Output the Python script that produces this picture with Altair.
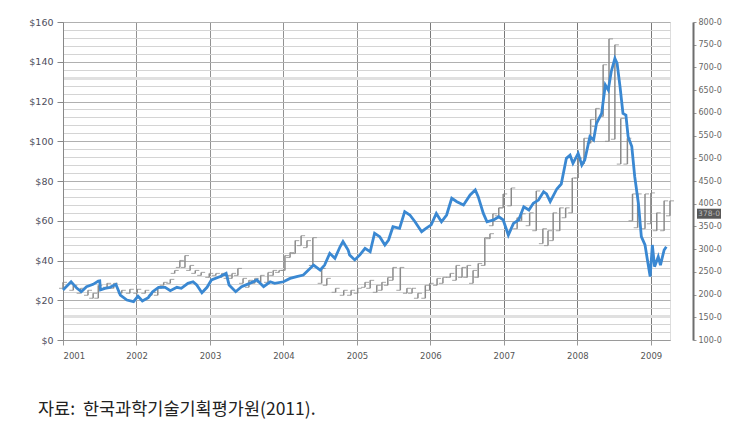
import altair as alt
import pandas as pd

# Blue line: crude oil price (left axis, $)
oil_t = [2001.00, 2001.11, 2001.19, 2001.25, 2001.32, 2001.41, 2001.48, 2001.50, 2001.51, 2001.57,
         2001.64, 2001.72, 2001.78, 2001.87, 2001.96, 2002.02, 2002.08, 2002.16, 2002.22, 2002.30,
         2002.39, 2002.46, 2002.55, 2002.61, 2002.70, 2002.77, 2002.82, 2002.89, 2002.96, 2003.02,
         2003.14, 2003.22, 2003.26, 2003.35, 2003.43, 2003.54, 2003.64, 2003.73, 2003.82, 2003.88,
         2004.00, 2004.09, 2004.18, 2004.27, 2004.34, 2004.41, 2004.50, 2004.56, 2004.63, 2004.70,
         2004.77, 2004.81, 2004.88, 2004.90, 2004.97, 2005.04, 2005.11, 2005.18, 2005.24, 2005.31,
         2005.38, 2005.43, 2005.49, 2005.58, 2005.65, 2005.72, 2005.79, 2005.88, 2005.94, 2006.01,
         2006.08, 2006.15, 2006.22, 2006.29, 2006.36, 2006.45, 2006.54, 2006.61, 2006.65, 2006.72,
         2006.77, 2006.86, 2006.93, 2006.99, 2007.06, 2007.13, 2007.20, 2007.27, 2007.34, 2007.40,
         2007.47, 2007.54, 2007.58, 2007.63, 2007.72, 2007.78, 2007.85, 2007.90, 2007.94, 2008.01,
         2008.06, 2008.10, 2008.17, 2008.22, 2008.26, 2008.33, 2008.38, 2008.42, 2008.46, 2008.51,
         2008.54, 2008.58, 2008.62, 2008.66, 2008.69, 2008.74, 2008.78, 2008.83, 2008.87, 2008.92,
         2008.96, 2008.99, 2009.02, 2009.05, 2009.10, 2009.13, 2009.18, 2009.21]
oil_v = [25.2, 29.3, 26.0, 24.3, 26.8, 28.0, 29.7, 29.8, 25.2, 26.0,
         26.5, 28.0, 22.6, 20.1, 19.3, 22.1, 19.6, 21.3, 24.3, 26.5,
         26.5, 24.8, 26.5, 26.0, 28.5, 29.3, 27.7, 23.8, 26.5, 30.2,
         31.9, 33.5, 27.7, 24.3, 26.8, 28.5, 30.2, 26.8, 29.3, 28.5,
         29.3, 31.0, 31.9, 32.7, 35.2, 37.7, 35.2, 37.7, 43.6, 41.1,
         46.9, 49.5, 45.3, 42.8, 40.3, 42.8, 46.1, 44.4, 53.7, 52.0,
         47.8, 50.3, 57.0, 56.2, 64.6, 62.9, 59.5, 54.5, 56.2, 57.9,
         63.7, 59.5, 62.9, 71.3, 69.6, 67.9, 73.0, 75.5, 72.1, 63.7,
         59.5, 60.4, 62.0, 60.4, 52.8, 58.7, 60.4, 67.0, 65.4, 68.8,
         70.4, 74.6, 73.5, 69.6, 76.0, 78.5, 91.4, 93.0, 88.9, 93.9,
         88.0, 90.6, 102.3, 100.6, 109.0, 114.0, 128.3, 125.8, 135.0, 141.7,
         139.2, 127.5, 114.0, 113.2, 102.3, 97.3, 82.2, 68.8, 52.0, 47.8,
         38.6, 31.9, 47.8, 36.9, 41.9, 37.7, 45.3, 46.9]

# Grey bars: index (right axis), low / high per period
bar_t = [2001.00, 2001.14, 2001.24, 2001.34, 2001.41, 2001.48, 2001.60, 2001.69, 2001.80, 2001.91,
         2002.01, 2002.12, 2002.21, 2002.29, 2002.37, 2002.46, 2002.52, 2002.59, 2002.66, 2002.73,
         2002.80, 2002.88, 2002.99, 2003.08, 2003.16, 2003.24, 2003.30, 2003.38, 2003.45, 2003.53,
         2003.61, 2003.69, 2003.79, 2003.86, 2003.94, 2004.02, 2004.09, 2004.16, 2004.24, 2004.32,
         2004.40, 2004.52, 2004.59, 2004.71, 2004.82, 2004.92, 2005.01, 2005.11, 2005.18, 2005.27,
         2005.34, 2005.42, 2005.49, 2005.59, 2005.68, 2005.75, 2005.83, 2005.93, 2005.99, 2006.09,
         2006.17, 2006.27, 2006.35, 2006.43, 2006.50, 2006.58, 2006.65, 2006.74, 2006.81, 2006.85,
         2006.93, 2006.99, 2007.10, 2007.18, 2007.24, 2007.35, 2007.44, 2007.53, 2007.60, 2007.67,
         2007.76, 2007.84, 2007.93, 2008.01, 2008.09, 2008.18, 2008.25, 2008.35, 2008.43, 2008.51,
         2008.59, 2008.68, 2008.75, 2008.82, 2008.92, 2009.00, 2009.08, 2009.18, 2009.26]
bar_lo = [213.8, 209.4, 202.8, 198.4, 191.9, 191.9, 215.9, 213.8, 202.8, 202.8,
          202.8, 202.8, 198.4, 198.4, 220.3, 224.7, 246.6, 259.7, 259.7, 253.1,
          246.6, 242.2, 237.8, 242.2, 237.8, 235.6, 235.6, 242.2, 224.7, 215.9,
          224.7, 226.9, 226.9, 242.2, 248.8, 253.1, 281.6, 290.3, 307.8, 303.4,
          264.1, 224.7, 220.3, 205.0, 198.4, 198.4, 202.8, 215.9, 213.8, 205.0,
          209.4, 220.3, 231.3, 209.4, 202.8, 202.8, 191.9, 191.9, 209.4, 220.3,
          224.7, 237.8, 231.3, 237.8, 237.8, 224.7, 237.8, 264.1, 323.1, 351.6,
          373.4, 390.9, 395.3, 345.0, 362.5, 351.6, 340.6, 312.2, 307.8, 318.8,
          340.6, 369.1, 380.0, 456.6, 487.2, 533.1, 570.3, 592.2, 537.5, 541.9,
          487.2, 487.2, 362.5, 347.2, 345.0, 355.9, 340.6, 340.6, 373.4]
bar_hi = [226.9, 220.3, 213.8, 209.4, 202.8, 220.3, 224.7, 224.7, 209.4, 211.6,
          211.6, 209.4, 205.0, 213.8, 226.9, 233.4, 253.1, 275.0, 285.9, 264.1,
          253.1, 248.8, 246.6, 246.6, 246.6, 242.2, 246.6, 257.5, 235.6, 231.3,
          235.6, 242.2, 248.8, 253.1, 253.1, 285.9, 292.5, 318.8, 329.7, 318.8,
          325.3, 257.5, 235.6, 213.8, 209.4, 209.4, 213.8, 226.9, 231.3, 220.3,
          226.9, 237.8, 259.7, 259.7, 213.8, 213.8, 202.8, 220.3, 224.7, 235.6,
          237.8, 246.6, 264.1, 259.7, 264.1, 253.1, 268.4, 325.3, 334.1, 377.8,
          390.9, 421.6, 434.7, 369.1, 377.8, 380.0, 428.1, 345.0, 340.6, 380.0,
          390.9, 390.9, 456.6, 500.3, 544.1, 585.6, 609.7, 705.9, 762.8, 749.7,
          587.8, 544.1, 421.6, 421.6, 421.6, 423.8, 380.0, 406.3, 406.3]

years = [2001, 2002, 2003, 2004, 2005, 2006, 2007, 2008, 2009]
left_ticks = list(range(0, 161, 4))
right_ticks = list(range(100, 801, 50))
last_value = [378]
last_label = ["378-0"]
caption = "자료:\u00a0\u00a0한국과학기술기획평가원(2011)."

W, H = 607, 318
oil = pd.DataFrame({"t": oil_t, "v": oil_v})
bars = pd.DataFrame({"t": bar_t, "lo": bar_lo, "hi": bar_hi})
lastdf = pd.DataFrame({"v": last_value, "lab": last_label})

FONT = "DejaVu Sans"
x_axis = alt.Axis(values=years, format="d", grid=True,
                  gridColor={"condition": {"test": "datum.value >= 2006", "value": "#7a7a7a"}, "value": "#929292"},
                  gridWidth=1,
                  tickSize=5, tickColor="#999", labelPadding=6, labelFontSize=8.5,
                  labelColor="#555", labelFont=FONT, domainColor="#9a9a9a", title=None)
x_scale = alt.Scale(domain=[2001, 2009.26], nice=False, zero=False)

left_axis = alt.Axis(orient="left", values=left_ticks,
                     labelExpr="datum.value % 20 === 0 ? '$' + datum.value : ''",
                     grid=True,
                     gridColor={"condition": [
                         {"test": "datum.value === 12 || datum.value === 132", "value": "#e0e0e0"},
                         {"test": "datum.value % 20 === 0", "value": "#b0b0b0"}],
                         "value": "#d4d4d4"},
                     gridWidth=alt.condition("datum.value === 12 || datum.value === 132", alt.value(3), alt.value(1)),
                     tickOpacity=alt.condition("datum.value % 20 === 0", alt.value(1), alt.value(0)),
                     tickSize=6, tickColor="#888", labelPadding=4, labelFontSize=9.5,
                     labelColor="#4d4d5c", labelFont=FONT, domainColor="#888", title=None)

right_scale = alt.Scale(domain=[100, 800], nice=False, zero=False)
right_axis = alt.Axis(orient="right", offset=23, values=right_ticks,
                      labelExpr="datum.value + '-0'", grid=False,
                      domainColor="#6e6e6e", domainWidth=2, tickColor="#999", tickSize=3,
                      labelPadding=2, labelFontSize=8, labelColor="#666", labelFont=FONT, title=None)

X = alt.X("t:Q", scale=x_scale, axis=x_axis)

rules = alt.Chart(bars).mark_rule(color="#8a8a8a", strokeWidth=1.5).encode(
    x=X, y=alt.Y("lo:Q", scale=right_scale, axis=right_axis), y2="hi:Q")
open_tick = alt.Chart(bars).mark_tick(color="#8a8a8a", orient="horizontal", size=4, thickness=1.1, xOffset=-2).encode(
    x=X, y=alt.Y("lo:Q", scale=right_scale, axis=right_axis))
close_tick = alt.Chart(bars).mark_tick(color="#8a8a8a", orient="horizontal", size=4, thickness=1.1, xOffset=2).encode(
    x=X, y=alt.Y("hi:Q", scale=right_scale, axis=right_axis))
box = alt.Chart(lastdf).mark_tick(color="#111", orient="horizontal", size=24, thickness=10).encode(
    x=alt.value(W + 39), y=alt.Y("v:Q", scale=right_scale, axis=right_axis))
box_text = alt.Chart(lastdf).mark_text(color="#bbb", fontSize=7.5, font=FONT, align="center", baseline="middle").encode(
    x=alt.value(W + 39), y=alt.Y("v:Q", scale=right_scale, axis=right_axis), text="lab:N")

grey = alt.layer(rules, open_tick, close_tick, box, box_text)

blue = alt.Chart(oil).mark_line(color="#3a88d2", strokeWidth=2.8).encode(
    x=X, y=alt.Y("v:Q", scale=alt.Scale(domain=[0, 160], nice=False), axis=left_axis))

cap = alt.Chart(pd.DataFrame({"c": [caption]})).mark_text(
    font="Noto Sans CJK KR", fontSize=17.5, color="#222", align="left", baseline="middle").encode(
    x=alt.value(-25), y=alt.value(388), text="c:N")

chart = alt.layer(grey, blue, cap).resolve_scale(y="independent").properties(
    width=W, height=H,
    autosize=alt.AutoSizeParams(type="none"),
    padding={"left": 63, "top": 22, "right": 78, "bottom": 89},
).configure_view(stroke=None).configure(background="white")

chart.save("out.html", embed_options={"renderer": "svg", "actions": False})
